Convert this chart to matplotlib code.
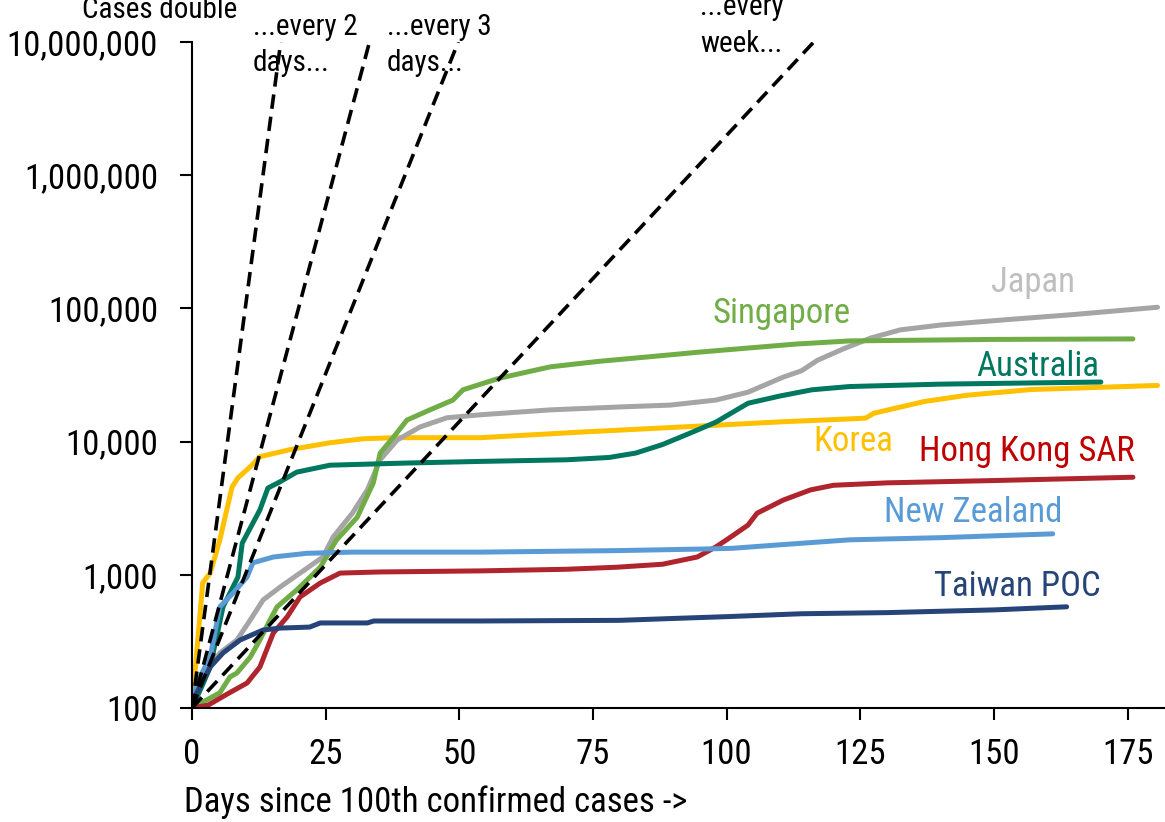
import matplotlib
matplotlib.use("Agg")
import matplotlib.pyplot as plt

plt.rcParams['font.family'] = ['Roboto Condensed', 'Archivo Narrow', 'DejaVu Sans']

# days since 100th case / confirmed cases
korea_days = [0, 2, 3.4, 5.2, 6.5, 7.5, 8.6, 11.2, 12.7, 18.3, 25.8, 32, 38, 54, 73, 92, 110.6, 123, 126,
              127.5, 131.8, 137, 145, 157, 180.6]
korea_cases = [100, 870, 1030, 1820, 3070, 4570, 5340, 6650, 7700, 8700, 9800, 10500, 10700, 10700, 11800,
               12900, 14100, 14800, 15000, 16300, 17900, 20000, 22300, 24600, 26400]

japan_days = [0, 2, 5.2, 8.4, 10.9, 13.3, 16.5, 20.2, 24.5, 26.4, 30, 32.8, 35.2, 38.4, 42.7, 47.7, 54, 67,
              80, 89.5, 98, 104, 110.6, 114, 117, 122, 127, 132.5, 140, 151, 165, 180.6]
japan_cases = [100, 171, 259, 324, 458, 647, 810, 1030, 1360, 1920, 2900, 4340, 7300, 10300, 12900, 15100,
               15900, 17300, 18200, 18800, 20500, 23500, 30500, 34000, 40800, 50000, 60000, 69000, 75000,
               81500, 90000, 102000]

singapore_days = [0, 5.2, 7.1, 8.4, 10.9, 12.7, 14.6, 15.9, 19.6, 24, 27, 30.9, 33.9, 35.2, 37.6, 40.2, 44.5,
                  48.8, 50.7, 57.6, 67, 76, 85.7, 95, 104, 113, 123, 150, 176]
singapore_cases = [100, 130, 171, 183, 241, 324, 458, 574, 770, 1140, 1820, 2700, 4880, 8200, 10700, 14500,
                   17300, 20500, 24500, 30000, 36400, 40000, 43400, 47000, 50400, 54000, 57000, 58500, 59000]

australia_days = [0, 2, 3.4, 5.8, 8.6, 9.4, 12.7, 14.2, 16.5, 19.6, 25.8, 40, 54, 70, 78, 83, 88, 93, 98, 104,
                  110, 116, 123, 140, 170]
australia_cases = [100, 150, 203, 574, 963, 1730, 3070, 4480, 5000, 5900, 6650, 6900, 7100, 7300, 7600, 8200,
                   9500, 11500, 14000, 19400, 22000, 24500, 25900, 27000, 28000]

hongkong_days = [0, 3, 7, 10.3, 12.7, 15.2, 17.8, 20.2, 24, 27.7, 35, 54, 70, 79.5, 88, 94.5, 98, 100, 104,
                 105.7, 110.6, 115.7, 120, 130, 150, 176]
hongkong_cases = [100, 105, 130, 154, 203, 365, 483, 681, 868, 1030, 1050, 1070, 1100, 1140, 1200, 1360, 1620,
                  1830, 2360, 2900, 3640, 4340, 4700, 4900, 5100, 5400]

nz_days = [0, 0.9, 3.4, 5.2, 7.7, 10.3, 11.4, 15.2, 21.5, 30, 54, 80, 95, 101, 110, 123, 140, 161]
nz_cases = [100, 154, 241, 574, 730, 963, 1230, 1360, 1450, 1480, 1480, 1520, 1560, 1580, 1680, 1830, 1900,
            2030]

taiwan_days = [0, 0.9, 3.4, 5.8, 9, 13.3, 16.5, 22, 24, 32.8, 34, 54, 80, 90, 100, 114, 130, 150, 163.6]
taiwan_cases = [100, 130, 203, 259, 324, 385, 398, 405, 435, 435, 450, 450, 455, 470, 485, 510, 520, 545, 575]

# doubling reference lines: start at 100 cases, end where they reach 10 million
double_end_days = [16.6, 33.2, 49.8, 116.3]
double_start = 100
double_end = 10000000

series = [
    ("Korea", korea_days, korea_cases, "#FFC000", "#FFC000", 116.2, 8490),
    ("Japan", japan_days, japan_cases, "#A5A5A5", "#BFBFBF", 149.4, 133000),
    ("Singapore", singapore_days, singapore_cases, "#70AD47", "#70AD47", 97.3, 77600),
    ("Australia", australia_days, australia_cases, "#00775F", "#00775F", 146.7, 31100),
    ("Hong Kong SAR", hongkong_days, hongkong_cases, "#B0252D", "#C00000", 135.9, 7140),
    ("New Zealand", nz_days, nz_cases, "#5B9BD5", "#5B9BD5", 129.4, 2490),
    ("Taiwan POC", taiwan_days, taiwan_cases, "#264478", "#264478", 138.7, 693),
]

fig = plt.figure(figsize=(11.65, 8.22), dpi=100)
ax = fig.add_axes([0.1648, 0.1387, 0.8352, 0.8102])

for name, d, c, col, tcol, lx, ly in series:
    ax.plot(d, c, color=col, lw=3.6, solid_capstyle='round', solid_joinstyle='round', zorder=2)
    ax.text(lx, ly, name, color=tcol, fontsize=25, ha='left', va='baseline')

for end in double_end_days:
    ax.plot([0, end], [double_start, double_end], color='black', lw=2.6, dashes=(4.0, 2.2), zorder=3)

ax.set_yscale('log')
ax.set_ylim(100, 10000000)
ax.set_xlim(0, 182)
ax.set_yticks([100, 1000, 10000, 100000, 1000000, 10000000])
ax.set_yticklabels(["100", "1,000", "10,000", "100,000", "1,000,000", "10,000,000"])
ax.minorticks_off()
ax.set_xticks([0, 25, 50, 75, 100, 125, 150, 175])
ax.tick_params(axis='both', labelsize=25, length=8.5, width=1.5, direction='out')
ax.tick_params(axis='y', pad=16)
ax.tick_params(axis='x', pad=13)
for s in ['top', 'right']:
    ax.spines[s].set_visible(False)
for s in ['left', 'bottom']:
    ax.spines[s].set_linewidth(1.5)

# x label and doubling annotations (figure pixel positions)
W, H = 1165, 822
fig.text(184 / W, 1 - 812 / H, "Days since 100th confirmed cases ->", fontsize=25, ha='left', va='baseline')

notes = [
    (82, [(18, "Cases double")]),
    (253, [(35, "...every 2"), (71, "days...")]),
    (387, [(35, "...every 3"), (71, "days...")]),
    (700, [(15, "...every"), (52, "week...")]),
]
for x, lines in notes:
    for y, txt in lines:
        fig.text(x / W, 1 - y / H, txt, fontsize=21, ha='left', va='baseline')

fig.savefig("out.png", dpi=100)
